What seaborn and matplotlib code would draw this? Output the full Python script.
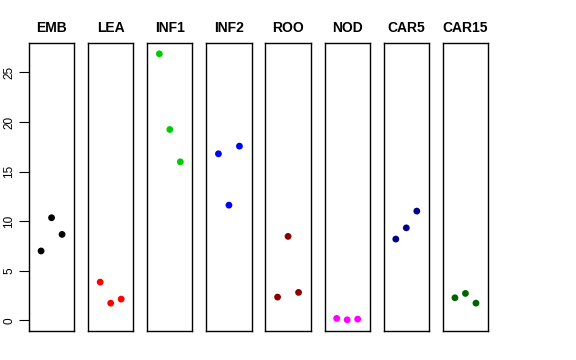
import matplotlib
matplotlib.use("Agg")
import matplotlib.pyplot as plt
import seaborn as sns

tissues = ["EMB", "LEA", "INF1", "INF2", "ROO", "NOD", "CAR5", "CAR15"]
colors = ["black", "red", "#00CD00", "blue", "#8B0000", "magenta", "#00008B", "#006400"]
reps = [1, 2, 3]

emb = [7.0, 10.35, 8.67]
lea = [3.86, 1.74, 2.15]
inf1 = [26.88, 19.25, 15.99]
inf2 = [16.8, 11.62, 17.57]
roo = [2.35, 8.47, 2.82]
nod = [0.2, 0.06, 0.13]
car5 = [8.2, 9.33, 11.02]
car15 = [2.28, 2.72, 1.74]
values = [emb, lea, inf1, inf2, roo, nod, car5, car15]

sns.set_style("white")
plt.rcParams["font.family"] = ["Liberation Sans", "DejaVu Sans"]
plt.rcParams["text.color"] = "black"
plt.rcParams["ytick.color"] = "black"
plt.rcParams["ytick.labelcolor"] = "black"

fig, axes = plt.subplots(1, 8, figsize=(5.76, 3.6), dpi=100, sharey=True)
fig.subplots_adjust(left=29/576, right=488/576, top=1-43/360, bottom=1-331/360, wspace=0.31)

for i, ax in enumerate(axes):
    sns.scatterplot(x=reps, y=values[i], color=colors[i], s=24, edgecolor="none", ax=ax)
    ax.set_title(tissues[i], fontweight="bold", fontsize=10, pad=8, color="black")
    ax.set_xlim(-0.15, 4.15)
    ax.set_xticks([])
    for sp in ax.spines.values():
        sp.set_color("black")
        sp.set_linewidth(1)
        sp.set_visible(True)
    ax.tick_params(left=False, labelleft=False)

axes[0].set_ylim(-1.07, 27.97)
axes[0].set_yticks([0, 5, 10, 15, 20, 25])
axes[0].tick_params(axis="y", left=True, labelleft=True, length=7, width=0.8,
                    labelsize=8.5, pad=3, color="black", labelcolor="black")
for lab in axes[0].get_yticklabels():
    lab.set_rotation(90)
    lab.set_va("center")

fig.savefig("out.png", dpi=100)
